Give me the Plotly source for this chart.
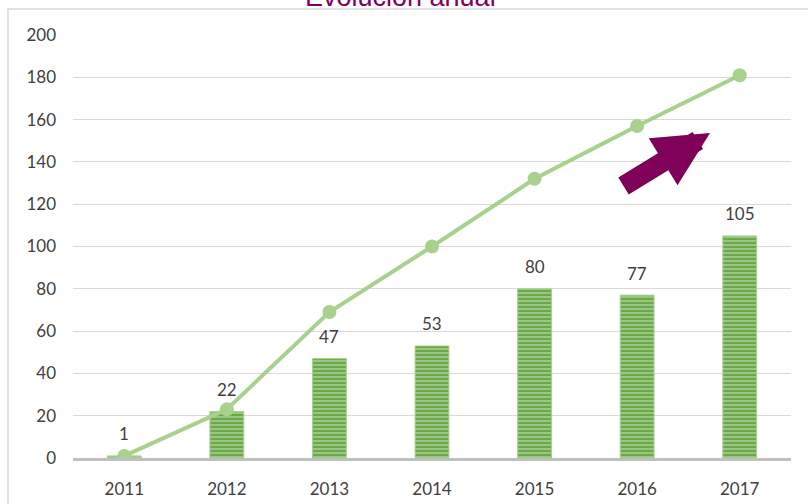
import plotly.graph_objects as go

years = [2011, 2012, 2013, 2014, 2015, 2016, 2017]
bar_values = [1, 22, 47, 53, 80, 77, 105]
line_values = [1, 23, 69, 100, 132, 157, 181]
y_ticks = [0, 20, 40, 60, 80, 100, 120, 140, 160, 180, 200]

W, H = 808, 504
L, R, T, B = 73, 17, 35, 46
ph = H - T - B

def py(pix):
    return (H - B - pix) / ph

def px(pix):
    return (pix - L) / (W - L - R)

fig = go.Figure()
fig.add_trace(go.Bar(
    x=years, y=bar_values, width=0.33,
    marker=dict(color="#6aa84a",
                line=dict(color="#a9d18e", width=1),
                pattern=dict(shape="-", size=4, solidity=0.45,
                             fgcolor="#d6ebc8", bgcolor="#6aa84a")),
    showlegend=False, hoverinfo="skip"))
fig.add_trace(go.Scatter(
    x=years, y=line_values, mode="lines+markers",
    line=dict(color="#a9d18e", width=4),
    marker=dict(color="#a9d18e", size=14),
    showlegend=False, hoverinfo="skip"))

annotations = []
for yr, v in zip(years, bar_values):
    annotations.append(dict(x=yr, y=v, xref="x", yref="y", text=str(v),
                            showarrow=False, yanchor="middle", yshift=22,
                            font=dict(family="Lato", size=17, color="#404040")))
annotations.append(dict(xref="paper", yref="paper", x=px(400), y=py(-3),
                        text="Evolución anual", showarrow=False,
                        xanchor="center", yanchor="middle",
                        font=dict(family="Liberation Sans", size=27, color="#800060")))
annotations.append(dict(xref="paper", yref="paper", x=px(710), y=py(133),
                        ax=-88, ay=54, text="", showarrow=True,
                        arrowhead=2, arrowsize=0.55, arrowwidth=20,
                        arrowcolor="#7e0059"))

fig.update_layout(
    width=W, height=H,
    margin=dict(l=L, r=R, t=T, b=B),
    paper_bgcolor="white", plot_bgcolor="white",
    annotations=annotations,
    shapes=[dict(type="rect", xref="paper", yref="paper",
                 x0=px(8), x1=px(830), y0=py(530), y1=py(9),
                 line=dict(color="#d9d9d9", width=1.5), layer="below")],
    xaxis=dict(range=[2010.5, 2017.5], tickvals=years,
               ticktext=[str(y) for y in years], automargin=False,
               showgrid=False, showline=True, zeroline=False,
               linecolor="#bfbfbf", linewidth=3, ticks="",
               ticklabelstandoff=14,
               tickfont=dict(family="Lato", size=17, color="#404040")),
    yaxis=dict(range=[0, 200], tickvals=y_ticks, showgrid=True,
               automargin=False,
               gridcolor="#d9d9d9", gridwidth=1, zeroline=False,
               showline=False, ticklabelstandoff=16,
               tickfont=dict(family="Lato", size=17, color="#404040")),
)

fig.write_html("out.html",
               config={"displayModeBar": False},
               post_script="document.body.style.margin='0';"
                           "document.body.style.overflow='hidden';")
